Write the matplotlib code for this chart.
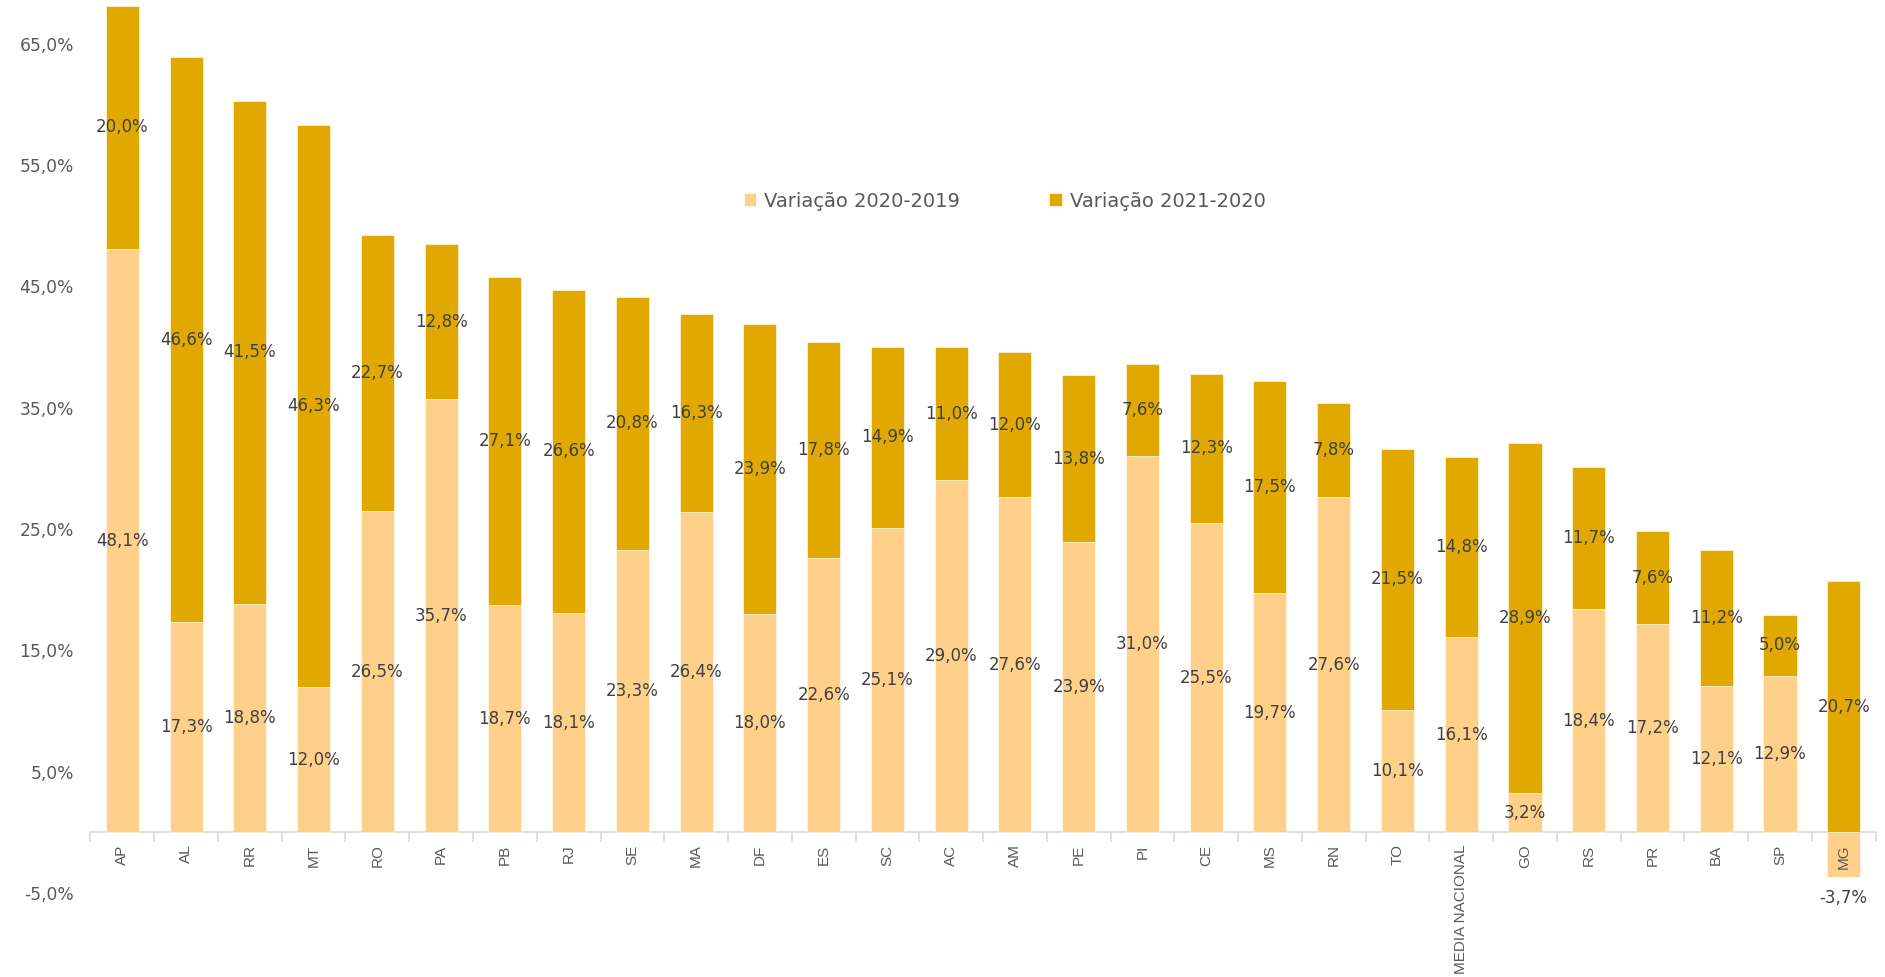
import matplotlib
matplotlib.use("Agg")
import matplotlib.pyplot as plt
from matplotlib import font_manager as fm
import numpy as np

categories = ["AP", "AL", "RR", "MT", "RO", "PA", "PB", "RJ", "SE", "MA", "DF", "ES", "SC", "AC",
              "AM", "PE", "PI", "CE", "MS", "RN", "TO", "MEDIA NACIONAL", "GO", "RS", "PR", "BA", "SP", "MG"]
var_2020_2019 = [48.1, 17.3, 18.8, 12.0, 26.5, 35.7, 18.7, 18.1, 23.3, 26.4, 18.0, 22.6, 25.1, 29.0,
                 27.6, 23.9, 31.0, 25.5, 19.7, 27.6, 10.1, 16.1, 3.2, 18.4, 17.2, 12.1, 12.9, -3.7]
var_2021_2020 = [20.0, 46.6, 41.5, 46.3, 22.7, 12.8, 27.1, 26.6, 20.8, 16.3, 23.9, 17.8, 14.9, 11.0,
                 12.0, 13.8, 7.6, 12.3, 17.5, 7.8, 21.5, 14.8, 28.9, 11.7, 7.6, 11.2, 5.0, 20.7]
series_names = ["Variação 2020-2019", "Variação 2021-2020"]
yticks = [-5, 5, 15, 25, 35, 45, 55, 65]

light = "#FFD089"
dark = "#E1A900"
tick_col = "#595959"
lab_col = "#404040"

# narrow font for category labels if available
try:
    fm.findfont(fm.FontProperties(family="Liberation Sans Narrow"), fallback_to_default=False)
    cat_family, cat_size = ["Liberation Sans Narrow", "DejaVu Sans"], 12.5
except Exception:
    cat_family, cat_size = ["Liberation Sans", "DejaVu Sans"], 11

def fmt(v):
    return f"{v:.1f}".replace(".", ",") + "%"

fig = plt.figure(figsize=(18.85, 9.77), dpi=100)
ax = fig.add_axes([0.048, 0.086, 0.947, 0.914])

x = np.arange(len(categories))
s1 = np.array(var_2020_2019)
s2 = np.array(var_2021_2020)
bottom2 = np.where(s1 > 0, s1, 0)

w = 0.52
b1 = ax.bar(x, s1, width=w, color=light, edgecolor="white", linewidth=0.4, label=series_names[0], zorder=2)
b2 = ax.bar(x, s2, bottom=bottom2, width=w, color=dark, edgecolor="white", linewidth=0.4, label=series_names[1], zorder=2)

for xi, v in zip(x, s1):
    if v >= 0:
        ax.text(xi, v / 2, fmt(v), ha="center", va="center", fontsize=12, color=lab_col, zorder=3)
    else:
        ax.text(xi, v - 1.7, fmt(v), ha="center", va="center", fontsize=12, color=lab_col, zorder=3)
for xi, b, v in zip(x, bottom2, s2):
    ax.text(xi, b + v / 2, fmt(v), ha="center", va="center", fontsize=12, color=lab_col, zorder=3)

ax.set_xlim(-0.5, len(categories) - 0.5)
ax.set_ylim(-5, 68.6)
ax.set_yticks(yticks)
ax.set_yticklabels([fmt(v) for v in yticks], fontsize=12.3, color=tick_col)
ax.tick_params(axis="y", length=0, pad=12)

for sp in ["top", "right", "left", "bottom"]:
    ax.spines[sp].set_visible(False)
ax.axhline(0, color="#D9D9D9", linewidth=1.2, zorder=1.5)

ax.set_xticks(x)
ax.set_xticklabels([])
ax.tick_params(axis="x", length=0)
for xi, c in zip(x, categories):
    ax.text(xi, -1.0, c, rotation=90, ha="center", va="top", fontsize=cat_size, color=tick_col,
            family=cat_family, zorder=4)
for b in np.arange(-0.5, len(categories) - 0.4, 1.0):
    ax.plot([b, b], [0, -0.7], color="#D9D9D9", linewidth=1.2, clip_on=False, zorder=1.5)

leg = fig.legend(handles=[b1, b2], labels=series_names, loc="center",
                 bbox_to_anchor=(0.533, 0.794), ncol=2, frameon=False, fontsize=14,
                 handlelength=0.65, handleheight=0.65, handletextpad=0.4, columnspacing=4.6)
for t in leg.get_texts():
    t.set_color(tick_col)

fig.savefig("out.png", dpi=100)
